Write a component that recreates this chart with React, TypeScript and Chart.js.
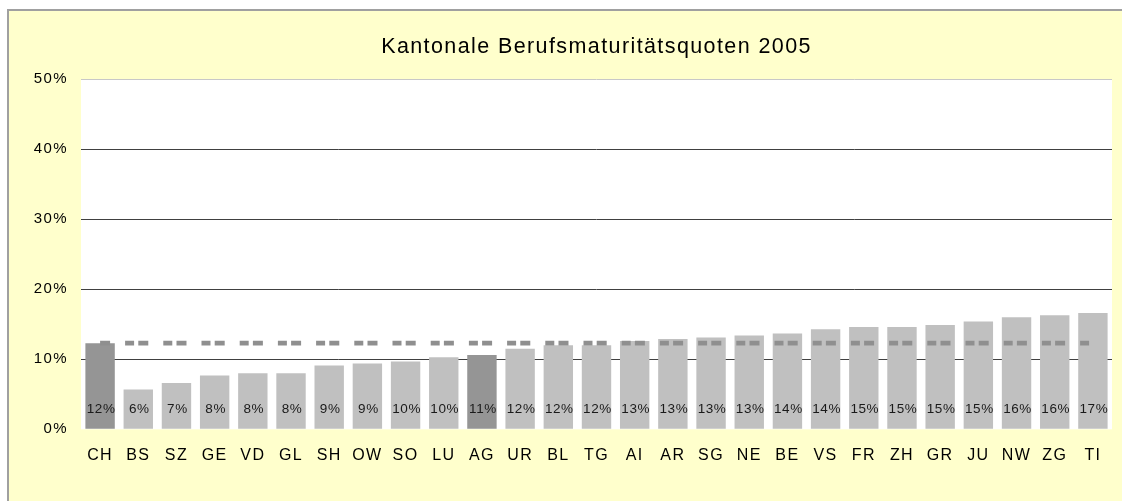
import React, { useEffect, useRef } from "react";
import { Chart, registerables } from "chart.js";

Chart.register(...registerables);

const TITLE = "Kantonale Berufsmaturitätsquoten 2005";
const categories = ["CH","BS","SZ","GE","VD","GL","SH","OW","SO","LU","AG","UR","BL","TG","AI","AR","SG","NE","BE","VS","FR","ZH","GR","JU","NW","ZG","TI"];
const quotes = [12.3,5.7,6.6,7.7,8.0,8.0,9.1,9.4,9.7,10.3,10.6,11.5,12.0,12.0,12.6,12.9,13.1,13.4,13.7,14.3,14.6,14.6,14.9,15.4,16.0,16.3,16.6];
const chAverage = [12.3,12.3,12.3,12.3,12.3,12.3,12.3,12.3,12.3,12.3,12.3,12.3,12.3,12.3,12.3,12.3,12.3,12.3,12.3,12.3,12.3,12.3,12.3,12.3,12.3,12.3,12.3];
const highlighted = ["CH", "AG"];
const yTicks = [0, 10, 20, 30, 40, 50];

const FONT = "'Liberation Sans', Arial, sans-serif";

const spacingPlugin = {
  id: "spacing",
  beforeUpdate(chart: any) { chart.ctx.letterSpacing = "1.4px"; },
  beforeDraw(chart: any) { chart.ctx.letterSpacing = "1.4px"; },
};

const backgroundPlugin = {
  id: "backgrounds",
  beforeDraw(chart: any) {
    const { ctx, chartArea, width, height } = chart;
    ctx.save();
    ctx.fillStyle = "#ffffff";
    ctx.fillRect(0, 0, width, height);
    ctx.fillStyle = "#ffffcc";
    ctx.fillRect(7, 9, width - 7, height - 9);
    ctx.fillStyle = "#a0a0a0";
    ctx.fillRect(7, 9, width - 7, 2);
    ctx.fillRect(7, 9, 2, height - 9);
    ctx.fillStyle = "#ffffff";
    ctx.fillRect(chartArea.left, chartArea.top, chartArea.right - chartArea.left, chartArea.bottom - chartArea.top);
    ctx.restore();
  },
};

const barLabelPlugin = {
  id: "barLabels",
  afterDatasetsDraw(chart: any) {
    const { ctx, chartArea } = chart;
    const meta = chart.getDatasetMeta(0);
    ctx.save();
    ctx.letterSpacing = "0.6px";
    ctx.font = `13.5px ${FONT}`;
    ctx.fillStyle = "#1a1a1a";
    ctx.textAlign = "center";
    ctx.textBaseline = "middle";
    meta.data.forEach((bar: any, i: number) => {
      ctx.fillText(`${Math.round(quotes[i])}%`, bar.x + 1, chartArea.bottom - 20);
    });
    ctx.restore();
    ctx.letterSpacing = "1.4px";
  },
};

export default function App() {
  const ref = useRef<HTMLCanvasElement | null>(null);
  useEffect(() => {
    document.body.style.margin = "0";
    document.body.style.overflow = "hidden";
    if (!ref.current) return;
    const chart = new Chart(ref.current, {
      type: "bar",
      data: {
        labels: categories,
        datasets: [
          {
            type: "bar",
            data: quotes,
            backgroundColor: categories.map((c) => (highlighted.includes(c) ? "#959595" : "#c0c0c0")),
            borderWidth: 0,
            barPercentage: 0.77,
            categoryPercentage: 1,
            order: 1,
          },
          {
            type: "line",
            data: chAverage,
            borderColor: "#8f8f8f",
            borderWidth: 4.7,
            borderDash: [10, 15, 9, 4.2],
            borderCapStyle: "butt",
            pointRadius: 0,
            fill: false,
            order: 0,
          } as any,
        ],
      },
      options: {
        responsive: false,
        animation: false,
        events: [],
        layout: { padding: { left: 0, right: 10, top: 0, bottom: 0 } },
        plugins: {
          legend: { display: false },
          tooltip: { enabled: false },
          title: {
            display: true,
            text: TITLE,
            fullSize: false,
            color: "#000000",
            font: { family: FONT, size: 21.5, weight: "normal", lineHeight: 1.2 },
            padding: { top: 34.3, bottom: 19.2 },
          },
        },
        scales: {
          x: {
            grid: { display: false, drawTicks: false },
            border: { display: false },
            ticks: { color: "#000000", font: { family: FONT, size: 16 }, padding: 17, maxRotation: 0, autoSkip: false },
            afterFit(scale: any) { scale.height = 71.7; },
          },
          y: {
            min: 0,
            max: 50,
            afterBuildTicks(scale: any) { scale.ticks = yTicks.map((v) => ({ value: v })); },
            grid: {
              drawTicks: false,
              color: (c: any) => (c.tick && c.tick.value === 50 ? "#c8c8c8" : c.tick && c.tick.value === 0 ? "rgba(0,0,0,0)" : "#404040"),
              lineWidth: 1,
            },
            border: { display: false },
            ticks: {
              color: "#000000",
              font: { family: FONT, size: 15 },
              padding: 13,
              callback: (v: any) => `${v}%`,
            },
            afterFit(scale: any) { scale.width = 81; },
          },
        },
      },
      plugins: [spacingPlugin, backgroundPlugin, barLabelPlugin],
    });
    return () => chart.destroy();
  }, []);

  return (
    <div style={{ position: "fixed", left: 0, top: 0, width: 1122, height: 501, overflow: "hidden" }}>
      <canvas ref={ref} width={1122} height={501} style={{ position: "absolute", left: 0, top: 0, display: "block" }} />
    </div>
  );
}
